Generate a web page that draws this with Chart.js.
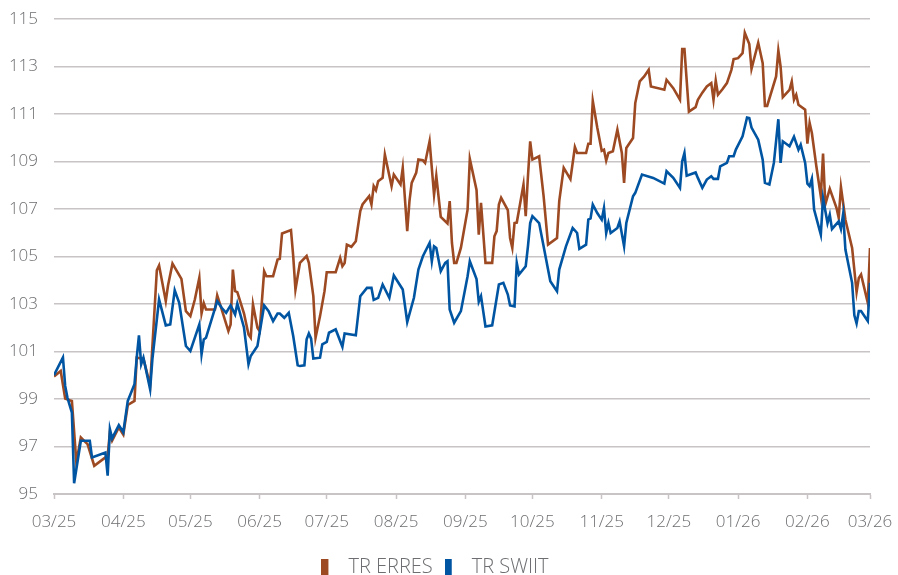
<!DOCTYPE html>
<html>
<head>
<meta charset="utf-8">
<title>TR ERRES / TR SWIIT</title>
<script src="https://cdn.jsdelivr.net/npm/chart.js@4.4.1/dist/chart.umd.min.js"></script>
<style>
    html, body { margin: 0; padding: 0; background: #ffffff; overflow: hidden; }
    #wrap { width: 898px; height: 575px; }
</style>
</head>
<body>
<div id="wrap"><canvas id="perfChart" width="898" height="575"></canvas></div>
<script>
// ticks of the x axis (first day of each month) and their labels
const monthTicks = ['2025-03-01', '2025-04-01', '2025-05-01', '2025-06-01', '2025-07-01', '2025-08-01', '2025-09-01',
    '2025-10-01', '2025-11-01', '2025-12-01', '2026-01-01', '2026-02-01', '2026-03-01'];
const monthLabels = ['03/25', '04/25', '05/25', '06/25', '07/25', '08/25', '09/25', '10/25', '11/25', '12/25', '01/26', '02/26', '03/26'];

// y axis tick labels
const yTicks = [95, 97, 99, 101, 103, 105, 107, 109, 111, 113, 115];

// TR ERRES (brown)
const erresDates = ['2025-03-01', '2025-03-04', '2025-03-06', '2025-03-08', '2025-03-09', '2025-03-11', '2025-03-13', '2025-03-16',
    '2025-03-19', '2025-03-24', '2025-03-25', '2025-03-26', '2025-03-27', '2025-03-30', '2025-04-01', '2025-04-03', '2025-04-06',
    '2025-04-07', '2025-04-10', '2025-04-13', '2025-04-16', '2025-04-17', '2025-04-20', '2025-04-21', '2025-04-23', '2025-04-27',
    '2025-04-29', '2025-05-01', '2025-05-03', '2025-05-05', '2025-05-06', '2025-05-07', '2025-05-08', '2025-05-12', '2025-05-13',
    '2025-05-15', '2025-05-18', '2025-05-19', '2025-05-20', '2025-05-21', '2025-05-22', '2025-05-25', '2025-05-27', '2025-05-28',
    '2025-05-29', '2025-05-31', '2025-06-01', '2025-06-03', '2025-06-04', '2025-06-07', '2025-06-09', '2025-06-10', '2025-06-11',
    '2025-06-15', '2025-06-16', '2025-06-17', '2025-06-19', '2025-06-22', '2025-06-23', '2025-06-25', '2025-06-26', '2025-06-28',
    '2025-06-30', '2025-07-01', '2025-07-05', '2025-07-07', '2025-07-08', '2025-07-09', '2025-07-10', '2025-07-12', '2025-07-14',
    '2025-07-16', '2025-07-17', '2025-07-20', '2025-07-21', '2025-07-22', '2025-07-23', '2025-07-24', '2025-07-26', '2025-07-27',
    '2025-07-30', '2025-07-31', '2025-08-03', '2025-08-04', '2025-08-06', '2025-08-07', '2025-08-08', '2025-08-10', '2025-08-11',
    '2025-08-13', '2025-08-14', '2025-08-16', '2025-08-18', '2025-08-19', '2025-08-21', '2025-08-24', '2025-08-25', '2025-08-26',
    '2025-08-27', '2025-08-28', '2025-08-30', '2025-09-02', '2025-09-03', '2025-09-06', '2025-09-07', '2025-09-08', '2025-09-10',
    '2025-09-13', '2025-09-14', '2025-09-15', '2025-09-16', '2025-09-17', '2025-09-20', '2025-09-21', '2025-09-22', '2025-09-23',
    '2025-09-24', '2025-09-27', '2025-09-28', '2025-09-29', '2025-09-30', '2025-10-01', '2025-10-04', '2025-10-06', '2025-10-08',
    '2025-10-12', '2025-10-13', '2025-10-15', '2025-10-18', '2025-10-20', '2025-10-21', '2025-10-25', '2025-10-26', '2025-10-27',
    '2025-10-28', '2025-10-30', '2025-11-01', '2025-11-02', '2025-11-03', '2025-11-04', '2025-11-06', '2025-11-08', '2025-11-10',
    '2025-11-11', '2025-11-12', '2025-11-15', '2025-11-16', '2025-11-18', '2025-11-20', '2025-11-22', '2025-11-23', '2025-11-29',
    '2025-11-30', '2025-12-03', '2025-12-06', '2025-12-07', '2025-12-08', '2025-12-10', '2025-12-13', '2025-12-14', '2025-12-16',
    '2025-12-18', '2025-12-20', '2025-12-21', '2025-12-22', '2025-12-23', '2025-12-25', '2025-12-27', '2025-12-29', '2025-12-30',
    '2026-01-01', '2026-01-03', '2026-01-04', '2026-01-06', '2026-01-07', '2026-01-10', '2026-01-12', '2026-01-13', '2026-01-14',
    '2026-01-18', '2026-01-19', '2026-01-20', '2026-01-21', '2026-01-24', '2026-01-25', '2026-01-26', '2026-01-27', '2026-01-28',
    '2026-01-31', '2026-02-01', '2026-02-02', '2026-02-03', '2026-02-05', '2026-02-07', '2026-02-08', '2026-02-09', '2026-02-11',
    '2026-02-14', '2026-02-15', '2026-02-16', '2026-02-18', '2026-02-21', '2026-02-23', '2026-02-24', '2026-02-25', '2026-02-28',
    '2026-03-01'];
const erresValues = [99.95, 100.18, 99.02, 98.95, 98.92, 96.33, 97.38, 97.10,
    96.19, 96.54, 96.60, 97.60, 97.25, 97.80, 97.50, 98.75, 98.92,
    100.74, 100.70, 99.58, 104.42, 104.62, 103.12, 103.78, 104.70, 104.06,
    102.70, 102.49, 103.19, 104.10, 102.60, 103.03, 102.77, 102.77, 103.36,
    102.77, 101.86, 102.14, 104.45, 103.54, 103.50, 102.60, 101.72, 101.58,
    102.98, 102.00, 101.86, 104.38, 104.17, 104.17, 104.87, 104.90, 105.97,
    106.11, 105.02, 103.61, 104.73, 105.02, 104.73, 103.33, 101.58, 102.49,
    103.54, 104.34, 104.34, 104.94, 104.59, 104.73, 105.50, 105.41, 105.64,
    106.91, 107.19, 107.54, 107.19, 107.96, 107.79, 108.17, 108.31, 109.29,
    107.96, 108.45, 108.03, 108.73, 106.07, 107.33, 108.10, 108.52, 109.08,
    109.05, 108.94, 109.85, 107.60, 108.40, 106.67, 106.39, 107.33, 105.57,
    104.73, 104.73, 105.36, 106.97, 109.11, 107.80, 105.92, 107.26, 104.73,
    104.73, 105.85, 106.07, 107.19, 107.47, 106.95, 105.78, 105.36, 106.41,
    106.43, 108.03, 106.70, 108.38, 109.85, 109.08, 109.22, 107.54, 105.50,
    105.78, 107.33, 108.73, 108.26, 109.61, 109.36, 109.36, 109.75, 109.75,
    111.55, 110.43, 109.45, 109.50, 109.04, 109.36, 109.43, 110.34, 109.36,
    108.10, 109.57, 109.99, 111.46, 112.37, 112.58, 112.86, 112.16, 112.02,
    112.44, 112.09, 111.60, 113.73, 113.73, 111.10, 111.29, 111.60, 111.90,
    112.16, 112.30, 111.60, 112.41, 111.81, 112.04, 112.30, 112.86, 113.31,
    113.35, 113.56, 114.42, 113.95, 112.90, 114.00, 113.14, 111.34, 111.34,
    112.58, 113.67, 113.00, 111.71, 112.02, 112.37, 111.60, 111.81, 111.39,
    111.18, 109.75, 110.62, 110.20, 108.80, 107.54, 109.33, 107.19, 107.85,
    107.05, 106.63, 107.93, 106.55, 105.36, 103.50, 104.10, 104.24, 103.05,
    105.36];

// TR SWIIT (blue)
const swiitDates = ['2025-03-01', '2025-03-05', '2025-03-06', '2025-03-07', '2025-03-09', '2025-03-10', '2025-03-13', '2025-03-17',
    '2025-03-18', '2025-03-24', '2025-03-25', '2025-03-26', '2025-03-27', '2025-03-30', '2025-04-01', '2025-04-03', '2025-04-06',
    '2025-04-07', '2025-04-08', '2025-04-09', '2025-04-10', '2025-04-13', '2025-04-14', '2025-04-17', '2025-04-20', '2025-04-22',
    '2025-04-24', '2025-04-26', '2025-04-29', '2025-05-01', '2025-05-05', '2025-05-06', '2025-05-07', '2025-05-08', '2025-05-13',
    '2025-05-15', '2025-05-17', '2025-05-19', '2025-05-21', '2025-05-22', '2025-05-25', '2025-05-26', '2025-05-27', '2025-05-28',
    '2025-05-31', '2025-06-03', '2025-06-05', '2025-06-07', '2025-06-09', '2025-06-10', '2025-06-12', '2025-06-14', '2025-06-16',
    '2025-06-18', '2025-06-19', '2025-06-21', '2025-06-22', '2025-06-23', '2025-06-24', '2025-06-25', '2025-06-28', '2025-06-29',
    '2025-07-01', '2025-07-02', '2025-07-05', '2025-07-08', '2025-07-09', '2025-07-14', '2025-07-16', '2025-07-19', '2025-07-21',
    '2025-07-22', '2025-07-24', '2025-07-26', '2025-07-29', '2025-07-31', '2025-08-04', '2025-08-06', '2025-08-09', '2025-08-11',
    '2025-08-13', '2025-08-16', '2025-08-17', '2025-08-18', '2025-08-19', '2025-08-21', '2025-08-23', '2025-08-24', '2025-08-25',
    '2025-08-27', '2025-08-30', '2025-09-02', '2025-09-03', '2025-09-06', '2025-09-07', '2025-09-08', '2025-09-10', '2025-09-13',
    '2025-09-16', '2025-09-18', '2025-09-20', '2025-09-21', '2025-09-23', '2025-09-24', '2025-09-25', '2025-09-28', '2025-09-29',
    '2025-09-30', '2025-10-01', '2025-10-04', '2025-10-06', '2025-10-09', '2025-10-12', '2025-10-13', '2025-10-16', '2025-10-19',
    '2025-10-21', '2025-10-22', '2025-10-25', '2025-10-26', '2025-10-27', '2025-10-28', '2025-10-30', '2025-11-01', '2025-11-02',
    '2025-11-03', '2025-11-04', '2025-11-05', '2025-11-08', '2025-11-09', '2025-11-11', '2025-11-12', '2025-11-15', '2025-11-16',
    '2025-11-19', '2025-11-24', '2025-11-29', '2025-11-30', '2025-12-03', '2025-12-06', '2025-12-07', '2025-12-08', '2025-12-09',
    '2025-12-13', '2025-12-14', '2025-12-16', '2025-12-18', '2025-12-20', '2025-12-21', '2025-12-23', '2025-12-24', '2025-12-27',
    '2025-12-28', '2025-12-30', '2025-12-31', '2026-01-03', '2026-01-05', '2026-01-06', '2026-01-07', '2026-01-10', '2026-01-12',
    '2026-01-13', '2026-01-15', '2026-01-17', '2026-01-19', '2026-01-20', '2026-01-21', '2026-01-24', '2026-01-26', '2026-01-28',
    '2026-01-29', '2026-01-31', '2026-02-01', '2026-02-02', '2026-02-03', '2026-02-04', '2026-02-07', '2026-02-08', '2026-02-10',
    '2026-02-11', '2026-02-12', '2026-02-15', '2026-02-16', '2026-02-17', '2026-02-18', '2026-02-21', '2026-02-22', '2026-02-23',
    '2026-02-24', '2026-02-25', '2026-02-28', '2026-03-01'];
const swiitValues = [100.00, 100.75, 99.55, 99.06, 98.43, 95.45, 97.24, 97.24,
    96.54, 96.75, 95.77, 97.73, 97.34, 97.90, 97.60, 98.92, 99.62,
    100.74, 101.68, 100.46, 100.74, 99.41, 100.67, 103.19, 102.10, 102.14,
    103.58, 103.05, 101.23, 101.02, 102.14, 100.88, 101.51, 101.58, 103.12,
    102.84, 102.63, 102.94, 102.56, 103.02, 102.00, 101.23, 100.46, 100.81,
    101.23, 102.94, 102.70, 102.28, 102.60, 102.60, 102.42, 102.63, 101.65,
    100.42, 100.39, 100.42, 101.51, 101.76, 101.54, 100.70, 100.74, 101.30,
    101.40, 101.79, 101.93, 101.20, 101.76, 101.68, 103.33, 103.68, 103.68,
    103.17, 103.26, 103.82, 103.26, 104.20, 103.61, 102.24, 103.26, 104.45,
    105.01, 105.57, 104.80, 105.43, 105.36, 104.38, 104.73, 104.80, 102.77,
    102.21, 102.70, 104.17, 104.80, 104.05, 103.10, 103.33, 102.05, 102.10,
    103.82, 103.89, 103.40, 102.94, 102.90, 104.73, 104.24, 104.59, 105.43,
    106.41, 106.70, 106.41, 105.43, 103.96, 103.54, 104.45, 105.43, 106.20,
    105.99, 105.32, 105.50, 106.55, 106.60, 107.19, 106.83, 106.55, 107.04,
    105.99, 106.41, 105.99, 106.20, 106.48, 105.43, 106.41, 107.54, 107.68,
    108.45, 108.31, 108.07, 108.59, 108.31, 107.89, 109.01, 109.36, 108.40,
    108.54, 108.31, 107.89, 108.24, 108.38, 108.27, 108.27, 108.80, 108.94,
    109.22, 109.22, 109.50, 110.06, 110.85, 110.83, 110.43, 109.92, 109.08,
    108.10, 108.03, 108.94, 110.78, 108.94, 109.85, 109.64, 110.04, 109.50,
    109.71, 108.94, 108.07, 107.96, 108.27, 106.98, 105.92, 107.46, 106.41,
    106.76, 106.16, 106.48, 106.16, 106.80, 105.29, 103.89, 102.52, 102.18,
    102.70, 102.70, 102.28, 103.89];

const textGrey = '#6d6e71';
const gridGrey = '#c8c3c5';
const brown = '#9d4a23';
const blue = '#0055a2';

// days since the first tick, so the x axis is a plain linear scale
const startMs = Date.parse(monthTicks[0]);
function toDay(s) {
    return (Date.parse(s) - startMs) / 86400000;
}
const monthDays = monthTicks.map(toDay);

function toPoints(dates, values) {
    return dates.map((d, i) => ({ x: toDay(d), y: values[i] }));
}

// narrow vertical bar used as legend marker
function legendMark(color) {
    const c = document.createElement('canvas');
    c.width = 17;
    c.height = 16;
    const g = c.getContext('2d');
    g.fillStyle = color;
    g.fillRect(0, 0, 7, 16);
    return c;
}

// push the legend row a bit lower, closer to the bottom edge
const legendShift = {
    id: 'legendShift',
    afterLayout(chart) {
        chart.legend.top += 12;
        chart.legend.bottom += 12;
    },
};

const ctx = document.getElementById('perfChart').getContext('2d');
const chart = new Chart(ctx, {
    type: 'line',
    data: {
        datasets: [
            {
                label: 'TR ERRES',
                data: toPoints(erresDates, erresValues),
                borderColor: brown,
                backgroundColor: brown,
                borderWidth: 2.6,
                pointRadius: 0,
                pointStyle: legendMark(brown),
                tension: 0,
                order: 1,
            },
            {
                label: 'TR SWIIT',
                data: toPoints(swiitDates, swiitValues),
                borderColor: blue,
                backgroundColor: blue,
                borderWidth: 2.6,
                pointRadius: 0,
                pointStyle: legendMark(blue),
                tension: 0,
                order: 0, // blue line drawn on top
            },
        ],
    },
    options: {
        responsive: false,
        animation: false,
        devicePixelRatio: 1,
        layout: {
            padding: { top: 19, right: 28, left: 0, bottom: 0 },
        },
        plugins: {
            tooltip: { enabled: false },
            legend: {
                position: 'bottom',
                labels: {
                    usePointStyle: true,
                    pointStyleWidth: 17,
                    padding: 12,
                    color: textGrey,
                    font: { family: 'Open Sans', size: 20, weight: '300' },
                    sort: (a, b) => a.datasetIndex - b.datasetIndex,
                },
            },
        },
        scales: {
            x: {
                type: 'linear',
                min: monthDays[0],
                max: monthDays[monthDays.length - 1],
                afterBuildTicks: (scale) => {
                    scale.ticks = monthDays.map((v) => ({ value: v }));
                },
                afterFit: (scale) => {
                    scale.height = 39;
                    scale.paddingLeft = 0;
                    scale.paddingRight = 0;
                },
                ticks: {
                    autoSkip: false,
                    maxRotation: 0,
                    padding: 13,
                    color: textGrey,
                    font: { family: 'Open Sans', size: 17, weight: '300' },
                    callback: (value) => monthLabels[monthDays.indexOf(value)],
                },
                grid: {
                    drawOnChartArea: false,
                    tickLength: 5,
                    tickColor: gridGrey,
                    tickWidth: 1.5,
                },
                border: { color: gridGrey, width: 2 },
            },
            y: {
                min: 95,
                max: 115,
                afterBuildTicks: (scale) => {
                    scale.ticks = yTicks.map((v) => ({ value: v }));
                },
                afterFit: (scale) => {
                    scale.width = 54;
                    scale.paddingTop = 0;
                    scale.paddingBottom = 0;
                },
                ticks: {
                    padding: 16,
                    color: textGrey,
                    font: { family: 'Open Sans', size: 17, weight: '300' },
                },
                grid: {
                    color: gridGrey,
                    lineWidth: 1.5,
                    drawTicks: false,
                },
                border: { display: false },
            },
        },
    },
    plugins: [legendShift],
});
</script>
</body>
</html>
